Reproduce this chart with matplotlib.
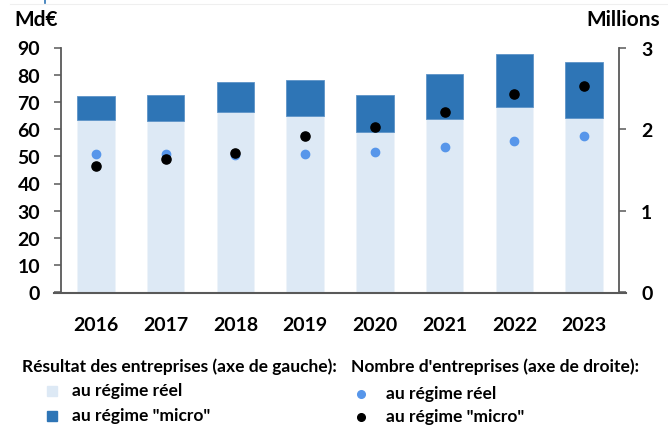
import matplotlib
matplotlib.use("Agg")
import matplotlib.pyplot as plt
from matplotlib.patches import Rectangle
from matplotlib.lines import Line2D
import numpy as np

plt.rcParams['font.family'] = ['Lato', 'DejaVu Sans']

years = ["2016", "2017", "2018", "2019", "2020", "2021", "2022", "2023"]
resultat_reel = [63.5, 62.9, 66.2, 64.8, 58.9, 63.6, 68.2, 64.1]
resultat_total = [72.3, 72.7, 77.2, 78.2, 72.4, 80.3, 87.6, 84.7]
resultat_micro = [t - r for t, r in zip(resultat_total, resultat_reel)]
nb_reel = [1.70, 1.69, 1.68, 1.69, 1.72, 1.78, 1.85, 1.92]
nb_micro = [1.55, 1.63, 1.71, 1.91, 2.03, 2.21, 2.43, 2.53]

left_ticks = list(range(0, 100, 10))
right_ticks = [0, 1, 2, 3]

C_LIGHT = "#DDE9F5"
C_DARK = "#2E75B6"
C_BLUE_DOT = "#5796EA"
C_AXIS = "#595959"

W, H = 668, 427
fig = plt.figure(figsize=(W / 100, H / 100), dpi=100)

def fx(px):
    return px / W

def fy(py):
    return 1 - py / H

ax = fig.add_axes([fx(61), fy(293.3), (619 - 61) / W, (293.3 - 48.5) / H])
x = np.arange(len(years))
ax.bar(x, resultat_reel, width=0.54, color=C_LIGHT, edgecolor="#EEF4FA", linewidth=0.6, zorder=2)
ax.bar(x, resultat_micro, bottom=resultat_reel, width=0.54, color=C_DARK,
       edgecolor="#5D93C8", linewidth=0.6, zorder=2)
ax.set_xlim(-0.5, len(years) - 0.5)
ax.set_ylim(0, 90)
ax.set_yticks(left_ticks)
ax.set_xticks(x)
ax.set_xticklabels(years)
for s in ["top", "right"]:
    ax.spines[s].set_visible(False)
ax.spines["left"].set_color(C_AXIS)
ax.spines["left"].set_linewidth(1.3)
ax.spines["bottom"].set_visible(False)
ax.tick_params(axis="y", direction="out", length=5, width=1.1, color=C_AXIS, pad=10,
               labelsize=14)
ax.tick_params(axis="x", length=0, pad=17, labelsize=14)
for lab in ax.get_yticklabels() + ax.get_xticklabels():
    lab.set_fontweight("bold")
    lab.set_color("black")

ax2 = ax.twinx()
ax2.set_ylim(0, 3)
ax2.set_yticks(right_ticks)
ax2.plot(x, nb_reel, "o", color=C_BLUE_DOT, ms=6, zorder=3, linestyle="none")
ax2.plot(x, nb_micro, "o", color="black", ms=6.6, zorder=4, linestyle="none")
for s in ["top", "left", "bottom"]:
    ax2.spines[s].set_visible(False)
ax2.spines["right"].set_color(C_AXIS)
ax2.spines["right"].set_linewidth(1.3)
ax2.tick_params(axis="y", direction="out", length=5, width=1.1, color=C_AXIS, pad=11,
                labelsize=14)
for lab in ax2.get_yticklabels():
    lab.set_fontweight("bold")

# baseline extending slightly beyond both spines
fig.add_artist(Line2D([fx(54), fx(626)], [fy(293.6), fy(293.6)], color=C_AXIS, lw=1.5))

# axis unit labels
fig.text(fx(14), fy(20.5), "Md€", fontsize=15, fontweight="bold", va="center", ha="left")
fig.text(fx(660), fy(20), "Millions", fontsize=15, fontweight="bold", va="center", ha="right")

# faint top artefacts
fig.add_artist(Line2D([fx(10), fx(668)], [fy(4.5), fy(4.5)], color="#EFEFEF", lw=0.8))
fig.add_artist(Line2D([fx(44.5), fx(44.5)], [fy(0), fy(4)], color=C_DARK, lw=1.2))

# legend
lfs = 12.5
fig.text(fx(22), fy(372.5), "Résultat des entreprises (axe de gauche):", fontsize=lfs,
         va="baseline", ha="left", fontweight="bold")
fig.add_artist(Rectangle((fx(47), fy(397)), 10 / W, 10 / H, color=C_LIGHT))
fig.text(fx(72), fy(396), "au régime réel", fontsize=lfs, va="baseline", ha="left",
         fontweight="bold")
fig.add_artist(Rectangle((fx(47), fy(422)), 10 / W, 10 / H, color=C_DARK))
fig.text(fx(72), fy(421.5), "au régime \"micro\"", fontsize=lfs, va="baseline", ha="left",
         fontweight="bold")

fig.text(fx(351), fy(372), "Nombre d'entreprises (axe de droite):", fontsize=lfs,
         va="baseline", ha="left", fontweight="bold")
fig.add_artist(Line2D([fx(360.5)], [fy(395)], marker="o", color=C_BLUE_DOT, ms=5.5))
fig.text(fx(386), fy(399), "au régime réel", fontsize=lfs, va="baseline", ha="left",
         fontweight="bold")
fig.add_artist(Line2D([fx(361)], [fy(417.5)], marker="o", color="black", ms=5.5))
fig.text(fx(386), fy(422.5), "au régime \"micro\"", fontsize=lfs, va="baseline", ha="left",
         fontweight="bold")

fig.savefig("out.png", dpi=100)
